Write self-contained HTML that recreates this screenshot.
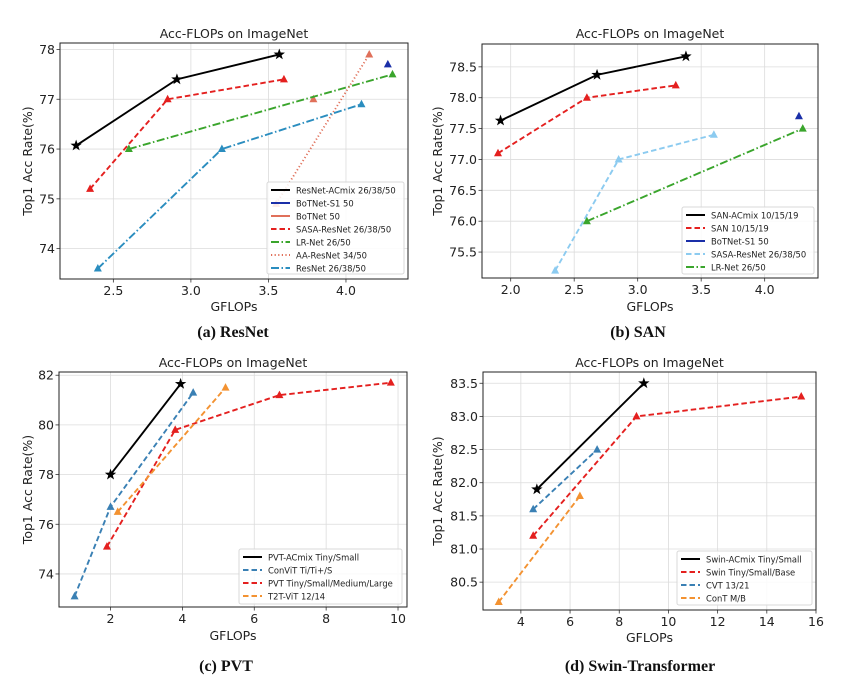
<!DOCTYPE html>
<html><head><meta charset="utf-8"><style>
html,body{margin:0;padding:0;background:#fff;}
svg{display:block;font-family:"DejaVu Sans","Liberation Sans",sans-serif;}
.cap{font-family:"Liberation Serif",serif;font-weight:bold;font-size:16px;}
</style></head><body>
<svg id="fig" width="855" height="687" viewBox="0 0 855 687"></svg>
<script>
// ---- data: panel a (ResNet)
const aAcmixX=[2.26,2.91,3.57], aAcmixY=[76.07,77.4,77.9];
const aBotS1X=[4.27], aBotS1Y=[77.7];
const aBotX=[3.79], aBotY=[77.0];
const aSasaX=[2.35,2.85,3.6], aSasaY=[75.2,77.0,77.4];
const aLrX=[2.6,4.3], aLrY=[76.0,77.5];
const aAaX=[3.55,4.15], aAaY=[74.9,77.9];
const aResX=[2.4,3.2,4.1], aResY=[73.6,76.0,76.9];
const aXTicks=[2.5,3.0,3.5,4.0], aYTicks=[74,75,76,77,78];
// ---- panel b (SAN)
const bAcmixX=[1.92,2.68,3.38], bAcmixY=[77.63,78.37,78.67];
const bSanX=[1.9,2.6,3.3], bSanY=[77.1,78.0,78.2];
const bBotS1X=[4.27], bBotS1Y=[77.7];
const bSasaX=[2.35,2.85,3.6], bSasaY=[75.2,77.0,77.4];
const bLrX=[2.6,4.3], bLrY=[76.0,77.5];
const bXTicks=[2.0,2.5,3.0,3.5,4.0], bYTicks=[75.5,76.0,76.5,77.0,77.5,78.0,78.5];
// ---- panel c (PVT)
const cAcmixX=[2.0,3.95], cAcmixY=[78.0,81.65];
const cConvitX=[1.0,2.0,4.3], cConvitY=[73.1,76.7,81.3];
const cPvtX=[1.9,3.8,6.7,9.8], cPvtY=[75.1,79.8,81.2,81.7];
const cT2tX=[2.2,5.2], cT2tY=[76.5,81.5];
const cXTicks=[2,4,6,8,10], cYTicks=[74,76,78,80,82];
// ---- panel d (Swin)
const dAcmixX=[4.65,9.0], dAcmixY=[81.9,83.5];
const dSwinX=[4.5,8.7,15.4], dSwinY=[81.2,83.0,83.3];
const dCvtX=[4.5,7.1], dCvtY=[81.6,82.5];
const dContX=[3.1,6.4], dContY=[80.2,81.8];
const dXTicks=[4,6,8,10,12,14,16], dYTicks=[80.5,81.0,81.5,82.0,82.5,83.0,83.5];

const NS="http://www.w3.org/2000/svg";
const svg=document.getElementById('fig');
function mk(tag,attrs,parent){const e=document.createElementNS(NS,tag);for(const k in attrs)e.setAttribute(k,attrs[k]);(parent||svg).appendChild(e);return e;}
function txt(s,x,y,attrs,parent){const t=mk('text',Object.assign({x:x,y:y},attrs),parent);t.textContent=s;return t;}
const DASH={solid:'',dash:'5.5,3',dashdot:'8,2.5,1.5,2.5',dot:'1.2,2.4'};

function panel(p){
  const g=mk('g',{});
  
  
  const L=p.box[0],T=p.box[1],R=p.box[2],B=p.box[3];
  const sx=v=>L+(v-p.xd[0])/(p.xd[1]-p.xd[0])*(R-L);
  const sy=v=>B-(v-p.yd[0])/(p.yd[1]-p.yd[0])*(B-T);
  p.xt.forEach(v=>{const l=mk('line',{x1:sx(v),x2:sx(v),y1:T,y2:B,stroke:'#dcdcdc','stroke-width':0.8},g);
    });
  p.yt.forEach(v=>{const l=mk('line',{x1:L,x2:R,y1:sy(v),y2:sy(v),stroke:'#dcdcdc','stroke-width':0.8},g);
    });
  p.xt.forEach(v=>{mk('line',{x1:sx(v),x2:sx(v),y1:B,y2:B+3.5,stroke:'#333','stroke-width':0.8},g);
    const t=txt(p.xf(v),sx(v),B+16,{'font-size':12.5,'text-anchor':'middle',fill:'#222'},g);
    });
  p.yt.forEach(v=>{mk('line',{x1:L-3.5,x2:L,y1:sy(v),y2:sy(v),stroke:'#333','stroke-width':0.8},g);
    const t=txt(p.yf(v),L-5,sy(v)+4.5,{'font-size':12.5,'text-anchor':'end',fill:'#222'},g);
    });
  p.series.forEach(s=>{
    const sg=mk('g',{},g);
    
    
    if(s.x.length>1){
      const pts=s.x.map((v,i)=>sx(v)+','+sy(s.y[i])).join(' ');
      const pl=mk('polyline',{points:pts,fill:'none',stroke:s.c,'stroke-width':1.9,'stroke-dasharray':DASH[s.ls]},sg);
      
    }
    s.x.forEach((v,i)=>{
      const cx=sx(v),cy=sy(s.y[i]);let m;
      if(s.m==='star'){
        const pts=[];for(let k=0;k<10;k++){const r=k%2?2.4:6;const a=-Math.PI/2+k*Math.PI/5;pts.push((cx+r*Math.cos(a)).toFixed(2)+','+(cy+r*Math.sin(a)).toFixed(2));}
        m=mk('polygon',{points:pts.join(' '),fill:s.c},sg);
      }else{
        m=mk('polygon',{points:`${cx},${cy-4.5} ${cx-4},${cy+3} ${cx+4},${cy+3}`,fill:s.c},sg);
      }
      
    });
  });
  const fr=mk('rect',{x:L,y:T,width:R-L,height:B-T,fill:'none',stroke:'#222','stroke-width':1},g);
  
  const lg=p.leg;
  const lgg=mk('g',{},g);
  
  mk('rect',{x:lg[0],y:lg[1],width:lg[2],height:lg[3],fill:'#fff','fill-opacity':0.85,stroke:'#d8d8d8',rx:2},lgg);
  p.series.forEach((s,i)=>{
    const y=lg[1]+8+i*13;
    const e=mk('g',{},lgg);
    
    mk('line',{x1:lg[0]+4,x2:lg[0]+23,y1:y,y2:y,stroke:s.c,'stroke-width':1.9,'stroke-dasharray':DASH[s.ls]},e);
    txt(s.label,lg[0]+29,y+3.3,{'font-size':8.4,fill:'#222'},e);
  });
  const tt=txt('Acc-FLOPs on ImageNet',(L+R)/2,p.ty,{'font-size':12.5,'text-anchor':'middle',fill:'#222'},g);
  
  const xl=txt('GFLOPs',(L+R)/2,p.xly,{'font-size':12.5,'text-anchor':'middle',fill:'#222'},g);
  
  const yl=txt('Top1 Acc Rate(%)',0,0,{'font-size':12.5,'text-anchor':'middle',fill:'#222',transform:`translate(${p.ylx},${(T+B)/2}) rotate(-90)`},g);
  
  const cp=txt(p.cap,p.capx,p.capy,{'text-anchor':'middle',fill:'#111',class:'cap'},g);
  
}
const f1=v=>v.toFixed(1), f0=v=>String(v);
const RED='#e4201f',BLK='#000',GRN='#3aa52c',CYAN='#2a8dbf',NAVY='#1a2fa8',SAL='#e0705a',LB='#8ccbf0',STB='#3a80b4',ORG='#f39231';
panel({id:'resnet',box:[60,43,408,279],xd:[2.156,4.40],yd:[73.39,78.13],xt:aXTicks,yt:aYTicks,xf:f1,yf:f0,
  leg:[267,182,137,92],ty:38,xly:311,ylx:32,cap:'(a) ResNet',capx:233,capy:337,
  series:[
   {key:'resnet-acmix',label:'ResNet-ACmix 26/38/50',x:aAcmixX,y:aAcmixY,c:BLK,ls:'solid',m:'star'},
   {key:'botnet-s1',label:'BoTNet-S1 50',x:aBotS1X,y:aBotS1Y,c:NAVY,ls:'solid',m:'tri'},
   {key:'botnet',label:'BoTNet 50',x:aBotX,y:aBotY,c:SAL,ls:'solid',m:'tri'},
   {key:'sasa',label:'SASA-ResNet 26/38/50',x:aSasaX,y:aSasaY,c:RED,ls:'dash',m:'tri'},
   {key:'lrnet',label:'LR-Net 26/50',x:aLrX,y:aLrY,c:GRN,ls:'dashdot',m:'tri'},
   {key:'aa-resnet',label:'AA-ResNet 34/50',x:aAaX,y:aAaY,c:SAL,ls:'dot',m:'tri'},
   {key:'resnet',label:'ResNet 26/38/50',x:aResX,y:aResY,c:CYAN,ls:'dashdot',m:'tri'}]});
panel({id:'san',box:[482,44,818,278],xd:[1.774,4.42],yd:[75.08,78.87],xt:bXTicks,yt:bYTicks,xf:f1,yf:f1,
  leg:[682,207,132,67],ty:38,xly:311,ylx:442,cap:'(b) SAN',capx:638,capy:337,
  series:[
   {key:'san-acmix',label:'SAN-ACmix 10/15/19',x:bAcmixX,y:bAcmixY,c:BLK,ls:'solid',m:'star'},
   {key:'san',label:'SAN 10/15/19',x:bSanX,y:bSanY,c:RED,ls:'dash',m:'tri'},
   {key:'botnet-s1',label:'BoTNet-S1 50',x:bBotS1X,y:bBotS1Y,c:NAVY,ls:'solid',m:'tri'},
   {key:'sasa',label:'SASA-ResNet 26/38/50',x:bSasaX,y:bSasaY,c:LB,ls:'dash',m:'tri'},
   {key:'lrnet',label:'LR-Net 26/50',x:bLrX,y:bLrY,c:GRN,ls:'dashdot',m:'tri'}]});
panel({id:'pvt',box:[59,372,407,607],xd:[0.566,10.25],yd:[72.67,82.13],xt:cXTicks,yt:cYTicks,xf:f0,yf:f0,
  leg:[239,549,163,55],ty:367,xly:640,ylx:32,cap:'(c) PVT',capx:226,capy:671,
  series:[
   {key:'pvt-acmix',label:'PVT-ACmix Tiny/Small',x:cAcmixX,y:cAcmixY,c:BLK,ls:'solid',m:'star'},
   {key:'convit',label:'ConViT Ti/Ti+/S',x:cConvitX,y:cConvitY,c:STB,ls:'dash',m:'tri'},
   {key:'pvt',label:'PVT Tiny/Small/Medium/Large',x:cPvtX,y:cPvtY,c:RED,ls:'dash',m:'tri'},
   {key:'t2t-vit',label:'T2T-ViT 12/14',x:cT2tX,y:cT2tY,c:ORG,ls:'dash',m:'tri'}]});
panel({id:'swin',box:[483,372,816,610],xd:[2.46,16.0],yd:[80.08,83.67],xt:dXTicks,yt:dYTicks,xf:f0,yf:f1,
  leg:[677,551,135,54],ty:367,xly:642,ylx:442,cap:'(d) Swin-Transformer',capx:640,capy:671,
  series:[
   {key:'swin-acmix',label:'Swin-ACmix Tiny/Small',x:dAcmixX,y:dAcmixY,c:BLK,ls:'solid',m:'star'},
   {key:'swin',label:'Swin Tiny/Small/Base',x:dSwinX,y:dSwinY,c:RED,ls:'dash',m:'tri'},
   {key:'cvt',label:'CVT 13/21',x:dCvtX,y:dCvtY,c:STB,ls:'dash',m:'tri'},
   {key:'cont',label:'ConT M/B',x:dContX,y:dContY,c:ORG,ls:'dash',m:'tri'}]});
</script>
</body></html>
